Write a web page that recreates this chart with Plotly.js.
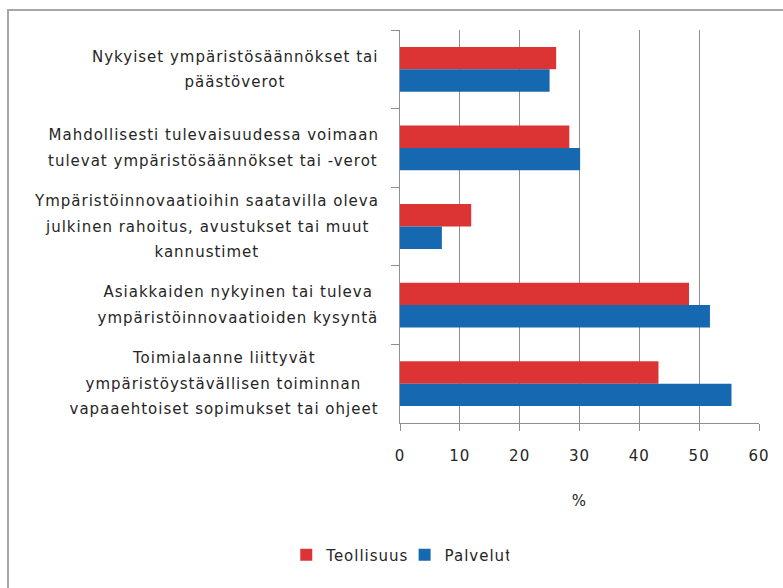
<!DOCTYPE html>
<html>
<head>
<meta charset="utf-8">
<script src="https://cdn.plot.ly/plotly-3.0.1.min.js"></script>
<style>
  html, body { margin: 0; padding: 0; background: #fff; }
  #wrap { position: relative; width: 783px; height: 588px; overflow: hidden; }
  #frame { position: absolute; left: 7px; top: 9px; width: 800px; height: 600px;
           border-left: 2px solid #a6a6a6; border-top: 2px solid #a6a6a6; pointer-events: none; z-index: 5; }
  #chart { position: absolute; left: 0; top: 0; width: 783px; height: 588px; }
  #chart text { letter-spacing: 1px; }
</style>
</head>
<body>
<div id="wrap"><div id="chart"></div><div id="frame"></div></div>
<script>
// Categories (top to bottom), lines separated by <br>
const categories = [
  "Nykyiset ympäristösäännökset tai<br>päästöverot",
  "Mahdollisesti tulevaisuudessa voimaan<br>tulevat ympäristösäännökset tai -verot",
  "Ympäristöinnovaatioihin saatavilla oleva<br>julkinen rahoitus, avustukset tai muut<br>kannustimet",
  "Asiakkaiden nykyinen tai tuleva<br>ympäristöinnovaatioiden kysyntä",
  "Toimialaanne liittyvät<br>ympäristöystävällisen toiminnan<br>vapaaehtoiset sopimukset tai ohjeet"
];
const seriesNames = ["Teollisuus", "Palvelut"];
const teollisuus = [26.1, 28.3, 11.9, 48.3, 43.2];
const palvelut = [25.0, 30.1, 7.0, 51.8, 55.4];
const xTicks = [0, 10, 20, 30, 40, 50, 60];

const FONT = '"DejaVu Sans", sans-serif';
const FS = 15;
const LS = 1; // letter spacing px (CSS)
const TXT = '#262626';
const GRID = '#8f8f8f';

const traces = [
  { type: 'bar', orientation: 'h', name: seriesNames[0], x: teollisuus, y: categories,
    marker: { color: '#dc3434' } },
  { type: 'bar', orientation: 'h', name: seriesNames[1], x: palvelut, y: categories,
    marker: { color: '#1668b0' } }
];

// measure text for centered multi-line labels
const cv = document.createElement('canvas').getContext('2d');
cv.font = FS + 'px "DejaVu Sans"';
function textW(s) { return cv.measureText(s).width + (s.length - 1) * LS; }
const annotations = [];
categories.forEach(function (c) {
  const lines = c.split('<br>');
  const maxW = Math.max.apply(null, lines.map(textW));
  const n = lines.length;
  lines.forEach(function (l, i) {
    annotations.push({
      text: l, x: 0, xref: 'paper', y: c, yref: 'y',
      xanchor: 'center', yanchor: 'middle',
      xshift: -(22 + maxW / 2), yshift: ((n - 1) / 2 - i) * 25.5,
      showarrow: false, font: { family: FONT, size: FS, color: TXT }
    });
  });
});

const layout = {
  width: 783, height: 588,
  margin: { l: 400, r: 24, t: 30, b: 165 },
  paper_bgcolor: '#ffffff', plot_bgcolor: '#ffffff',
  barmode: 'group', bargap: 0.43, bargroupgap: 0,
  showlegend: true,
  legend: { orientation: 'h', xref: 'container', yref: 'container', x: 0.508, y: 0.056,
            xanchor: 'center', yanchor: 'middle', traceorder: 'normal',
            font: { family: FONT, size: FS, color: TXT } },
  xaxis: {
    range: [0, 60], tickvals: xTicks, ticktext: xTicks.map(String),
    showgrid: true, gridcolor: GRID, gridwidth: 1, zeroline: false,
    showline: true, linecolor: GRID, linewidth: 1,
    ticks: 'outside', ticklen: 7, tickcolor: GRID, tickwidth: 1,
    ticklabelstandoff: 12,
    tickfont: { family: FONT, size: FS, color: TXT },
    title: { text: '%', font: { family: FONT, size: FS, color: TXT }, standoff: 31 },
    fixedrange: true
  },
  yaxis: {
    type: 'category', autorange: 'reversed',
    showticklabels: false, showgrid: false, zeroline: false,
    showline: true, linecolor: GRID, linewidth: 1,
    ticks: 'outside', ticklen: 8, tickcolor: GRID, tickwidth: 1, tickson: 'boundaries',
    fixedrange: true
  },
  annotations: annotations
};

Plotly.newPlot('chart', traces, layout, { displayModeBar: false, staticPlot: true });
</script>
</body>
</html>
